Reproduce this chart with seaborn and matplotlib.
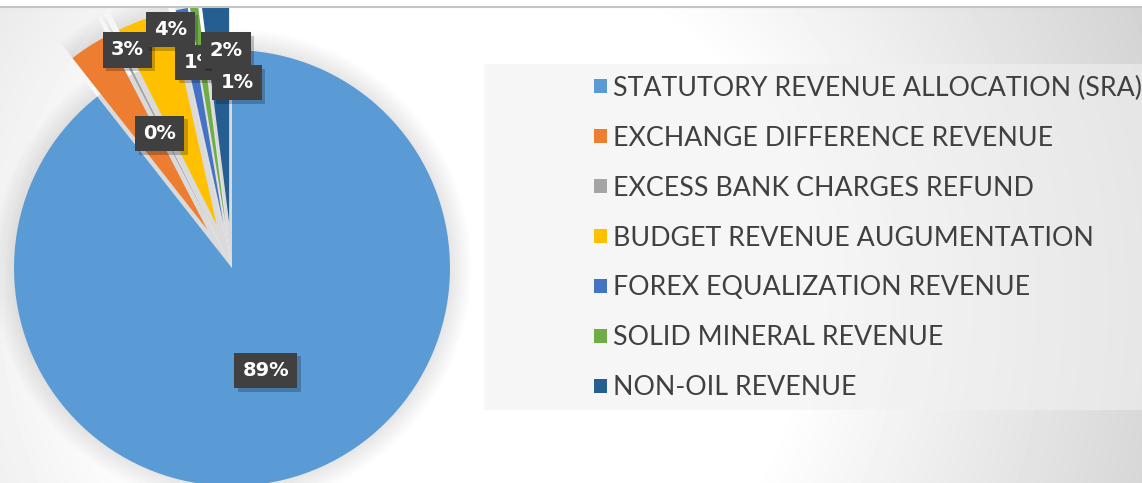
import numpy as np
import matplotlib
matplotlib.use("Agg")
import matplotlib.pyplot as plt
import matplotlib.transforms as mtransforms
from matplotlib import font_manager
from matplotlib.patches import Rectangle
import seaborn as sns

# data (percent of total revenue)
categories = [
    "STATUTORY REVENUE ALLOCATION (SRA)",
    "EXCHANGE DIFFERENCE REVENUE",
    "EXCESS BANK CHARGES REFUND",
    "BUDGET REVENUE AUGUMENTATION",
    "FOREX EQUALIZATION REVENUE",
    "SOLID MINERAL REVENUE",
    "NON-OIL REVENUE",
]
shares = [89.4, 3.0, 0.2, 3.9, 0.9, 0.6, 2.0]
colors = ["#5B9BD5", "#ED7D31", "#A5A5A5", "#FFC000", "#4472C4", "#70AD47", "#255E91"]

# layout / style only
explode = [0, 0.21, 0.21, 0.21, 0.21, 0.21, 0.21]
label_r = [0.495, 1.11, 0.70, 1.13, 0.955, 0.85, 1.0]
label_shift = [0.85, 7.1, -1.2, 5.1, 2.2, 9.8, 2.0]   # degrees, clockwise
label_z = [10, 11, 12, 13, 14, 16, 15]

sns.set_theme(style="white")
names = {f.name for f in font_manager.fontManager.ttflist}
font = next(n for n in ["Lato", "Open Sans", "DejaVu Sans"] if n in names)
plt.rcParams["font.family"] = [font, "DejaVu Sans"]

W, H = 1142, 483
R = 218.0
cx, cy = 232.0, 268.0

fig = plt.figure(figsize=(W / 100, H / 100), dpi=100)

# background gradient
bg = fig.add_axes([0, 0, 1, 1], zorder=-10)
yy, xx = np.mgrid[0:H, 0:W]
d = np.hypot(xx - 450, yy - 300)
val = 255 - 0.11 * np.clip(d - 350, 0, None)
bg.imshow(val, cmap="gray", vmin=0, vmax=255, extent=(0, W, H, 0), aspect="auto")
bg.add_patch(Rectangle((484, 64), W - 484, 410 - 64, facecolor="#F1F1F1", alpha=0.585, edgecolor="none"))
bg.set_xlim(0, W)
bg.set_ylim(H, 0)
bg.axis("off")

ax = fig.add_axes([0, 0, 480 / W, 1])
ax.set_facecolor("none")

# soft halo around pie
for k in range(1, 9):
    ax.pie(shares, explode=explode, startangle=90, counterclock=False,
           radius=1 + 0.012 * k, colors=["#000000"] * len(shares),
           wedgeprops=dict(linewidth=0, alpha=0.012))

# shadow of the exploded slices
ax.pie(shares, startangle=90, counterclock=False,
       colors=["none"] + ["#DADADA"] * (len(shares) - 1),
       wedgeprops=dict(linewidth=0))

wedges, _ = ax.pie(shares, explode=explode, colors=sns.color_palette(colors),
                   startangle=90, counterclock=False, wedgeprops=dict(linewidth=0))

ax.set_aspect("auto")
ax.set_xlim(-cx / R, (480 - cx) / R)
ax.set_ylim(-(H - cy) / R, cy / R)
ax.axis("off")

total = sum(shares)
lbl = dict(ha="center", va="center", family="DejaVu Sans", fontweight="bold",
           fontsize=14, clip_on=False)
shadow_tr = mtransforms.offset_copy(ax.transData, fig=fig, x=2.5, y=-2.5, units="points")
for i, (v, w) in enumerate(zip(shares, wedges)):
    mid = (w.theta1 + w.theta2) / 2 - label_shift[i]
    x = label_r[i] * np.cos(np.deg2rad(mid))
    y = label_r[i] * np.sin(np.deg2rad(mid))
    txt = f"{v / total * 100:.0f}%"
    ax.text(x, y, txt, transform=shadow_tr, color="none", zorder=label_z[i] - 0.5,
            bbox=dict(boxstyle="square,pad=0.42", fc="black", ec="none", alpha=0.22), **lbl)
    ax.text(x, y, txt, color="white", zorder=label_z[i],
            bbox=dict(boxstyle="square,pad=0.42", fc="#404040", ec="none"), **lbl)

fig.legend(wedges, categories, loc="center left", bbox_to_anchor=(594 / W, 1 - 238 / H),
           frameon=False, prop=dict(family=font, size=19.3), labelcolor="#404040",
           handlelength=0.5, handleheight=0.43, handletextpad=0.22,
           labelspacing=0.93, borderpad=0, borderaxespad=0)

# top strip
top = fig.add_axes([0, 0, 1, 1], zorder=20)
top.set_facecolor("none")
top.add_patch(Rectangle((0, 0), W, 5.5, facecolor="white", edgecolor="none"))
top.axhline(6.5, color="#C4C4C4", lw=1.5)
top.set_xlim(0, W)
top.set_ylim(H, 0)
top.axis("off")

fig.savefig("out.png", dpi=100)
